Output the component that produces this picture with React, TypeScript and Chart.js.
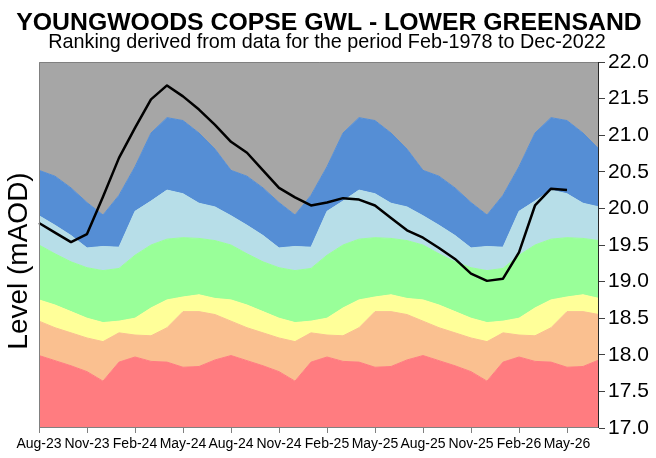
import React, { useEffect, useRef } from "react";
import { Chart, registerables } from "chart.js";

Chart.register(...registerables);

const TITLE = "YOUNGWOODS COPSE GWL - LOWER GREENSAND";
const SUBTITLE = "Ranking derived from data for the period Feb-1978 to Dec-2022";
const Y_TITLE = "Level (mAOD)";

const months = [
  "Aug-23", "Sep-23", "Oct-23", "Nov-23", "Dec-23", "Jan-24", "Feb-24", "Mar-24", "Apr-24", "May-24", "Jun-24", "Jul-24",
  "Aug-24", "Sep-24", "Oct-24", "Nov-24", "Dec-24", "Jan-25", "Feb-25", "Mar-25", "Apr-25", "May-25", "Jun-25", "Jul-25",
  "Aug-25", "Sep-25", "Oct-25", "Nov-25", "Dec-25", "Jan-26", "Feb-26", "Mar-26", "Apr-26", "May-26", "Jun-26", "Jul-26",
];

const shownLabels = ["Aug-23", "Nov-23", "Feb-24", "May-24", "Aug-24", "Nov-24", "Feb-25", "May-25", "Aug-25", "Nov-25", "Feb-26", "May-26"];

const yTicks = [17.0, 17.5, 18.0, 18.5, 19.0, 19.5, 20.0, 20.5, 21.0, 21.5, 22.0];

// band upper boundaries (mAOD)
const redTop = [
  17.99, 17.92, 17.85, 17.77, 17.64, 17.90, 17.97, 17.91, 17.90, 17.83, 17.84, 17.93,
  17.99, 17.92, 17.85, 17.77, 17.64, 17.90, 17.97, 17.91, 17.90, 17.83, 17.84, 17.93,
  17.99, 17.92, 17.85, 17.77, 17.64, 17.90, 17.97, 17.91, 17.90, 17.83, 17.84, 17.93,
];
const orangeTop = [
  18.46, 18.37, 18.30, 18.23, 18.18, 18.30, 18.27, 18.26, 18.37, 18.59, 18.59, 18.55,
  18.46, 18.37, 18.30, 18.23, 18.18, 18.30, 18.27, 18.26, 18.37, 18.59, 18.59, 18.55,
  18.46, 18.37, 18.30, 18.23, 18.18, 18.30, 18.27, 18.26, 18.37, 18.59, 18.59, 18.55,
];
const yellowTop = [
  18.75, 18.68, 18.59, 18.50, 18.44, 18.46, 18.50, 18.64, 18.75, 18.79, 18.82, 18.77,
  18.75, 18.68, 18.59, 18.50, 18.44, 18.46, 18.50, 18.64, 18.75, 18.79, 18.82, 18.77,
  18.75, 18.68, 18.59, 18.50, 18.44, 18.46, 18.50, 18.64, 18.75, 18.79, 18.82, 18.77,
];
const greenTop = [
  19.50, 19.38, 19.27, 19.19, 19.15, 19.18, 19.36, 19.50, 19.58, 19.60, 19.59, 19.56,
  19.50, 19.38, 19.27, 19.19, 19.15, 19.18, 19.36, 19.50, 19.58, 19.60, 19.59, 19.56,
  19.50, 19.38, 19.27, 19.19, 19.15, 19.18, 19.36, 19.50, 19.58, 19.60, 19.59, 19.56,
];
const lightBlueTop = [
  19.90, 19.77, 19.63, 19.46, 19.48, 19.47, 19.96, 20.10, 20.25, 20.20, 20.07, 20.02,
  19.90, 19.77, 19.63, 19.46, 19.48, 19.47, 19.96, 20.10, 20.25, 20.20, 20.07, 20.02,
  19.90, 19.77, 19.63, 19.46, 19.48, 19.47, 19.96, 20.10, 20.25, 20.20, 20.07, 20.02,
];
const blueTop = [
  20.52, 20.44, 20.28, 20.08, 19.91, 20.18, 20.57, 21.03, 21.24, 21.20, 21.03, 20.81,
  20.52, 20.44, 20.28, 20.08, 19.91, 20.18, 20.57, 21.03, 21.24, 21.20, 21.03, 20.81,
  20.52, 20.44, 20.28, 20.08, 19.91, 20.18, 20.57, 21.03, 21.24, 21.20, 21.03, 20.81,
];

// observed groundwater level (mAOD)
const level = [
  19.80, 19.67, 19.54, 19.65, 20.16, 20.69, 21.10, 21.49, 21.68, 21.53, 21.35, 21.14,
  20.91, 20.76, 20.52, 20.28, 20.15, 20.04, 20.08, 20.14, 20.12, 20.04, 19.87, 19.70,
  19.60, 19.46, 19.31, 19.11, 19.01, 19.04, 19.40, 20.04, 20.27, 20.25, null, null,
];

const FONT = "'Liberation Sans', Arial, Helvetica, sans-serif";

const COLORS = {
  gray: "#A6A6A6",
  blue: "#558ED5",
  lightBlue: "#B7DEE8",
  green: "#99FF99",
  yellow: "#FFFF99",
  orange: "#FAC090",
  red: "#FF7C80",
};

const decorPlugin = {
  id: "decor",
  afterDatasetsDraw(chart: any) {
    const { ctx, chartArea } = chart;
    const { left, right, top, bottom } = chartArea;
    ctx.save();
    ctx.lineWidth = 1;
    ctx.strokeStyle = "#808080";
    ctx.beginPath();
    ctx.moveTo(left + 0.5, bottom);
    ctx.lineTo(left + 0.5, top + 0.5);
    ctx.lineTo(right, top + 0.5);
    ctx.moveTo(left, bottom - 0.5);
    ctx.lineTo(right, bottom - 0.5);
    ctx.stroke();
    ctx.strokeStyle = "#262626";
    ctx.beginPath();
    ctx.moveTo(right - 0.5, top);
    ctx.lineTo(right - 0.5, bottom);
    ctx.stroke();
    ctx.restore();
  },
  afterDraw(chart: any) {
    const { ctx } = chart;
    ctx.save();
    ctx.fillStyle = "#000";
    ctx.textAlign = "center";
    ctx.textBaseline = "alphabetic";
    ctx.font = `bold 24.8px ${FONT}`;
    ctx.fillText(TITLE, 329, 30);
    ctx.font = `19.8px ${FONT}`;
    ctx.fillText(SUBTITLE, 327, 48);
    ctx.translate(27, 261);
    ctx.rotate(-Math.PI / 2);
    ctx.font = `28px ${FONT}`;
    ctx.fillText(Y_TITLE, 0, 0);
    ctx.restore();
  },
};

function band(label: string, data: number[], color: string, fill: any) {
  return {
    label,
    data,
    backgroundColor: color,
    borderColor: color,
    borderWidth: 1,
    pointRadius: 0,
    fill,
    tension: 0,
    order: 1,
  };
}

export default function App() {
  const ref = useRef<HTMLCanvasElement | null>(null);

  useEffect(() => {
    document.body.style.margin = "0";
    const canvas = ref.current;
    if (!canvas) return;
    const chart = new Chart(canvas, {
      type: "line",
      data: {
        labels: months,
        datasets: [
          band("Red", redTop, COLORS.red, "start"),
          band("Orange", orangeTop, COLORS.orange, "-1"),
          band("Yellow", yellowTop, COLORS.yellow, "-1"),
          band("Green", greenTop, COLORS.green, "-1"),
          band("Light blue", lightBlueTop, COLORS.lightBlue, "-1"),
          band("Blue", blueTop, COLORS.blue, "-1"),
          { ...band("Gray", blueTop, COLORS.gray, "end"), borderWidth: 0 },
          {
            label: "Level",
            data: level,
            borderColor: "#000000",
            borderWidth: 2.5,
            pointRadius: 0,
            fill: false,
            tension: 0,
            spanGaps: false,
            order: 0,
          } as any,
        ],
      },
      options: {
        responsive: false,
        animation: false,
        devicePixelRatio: 1,
        layout: { padding: { left: 39, right: 0, top: 62, bottom: 0 } },
        plugins: {
          legend: { display: false },
          tooltip: { enabled: false },
          title: { display: false },
        },
        elements: { line: { borderJoinStyle: "round" } },
        scales: {
          x: {
            type: "category",
            offset: false,
            afterFit(scale: any) {
              scale.height = 30;
            },
            grid: {
              display: true,
              drawOnChartArea: false,
              drawTicks: true,
              tickLength: 5,
              color: (ctx: any) => (ctx.index % 3 === 0 ? "#808080" : "rgba(0,0,0,0)"),
            },
            border: { display: false },
            ticks: {
              autoSkip: false,
              maxRotation: 0,
              minRotation: 0,
              padding: 3,
              color: "#000",
              font: { family: FONT, size: 14 },
              callback: (_v: any, i: number) => (shownLabels.includes(months[i]) ? months[i] : ""),
            },
          },
          y: {
            position: "right",
            min: yTicks[0],
            max: yTicks[yTicks.length - 1],
            afterFit(scale: any) {
              scale.width = 57;
            },
            afterBuildTicks(scale: any) {
              scale.ticks = yTicks.map((v) => ({ value: v }));
            },
            grid: {
              display: true,
              drawOnChartArea: false,
              drawTicks: true,
              tickLength: 6,
              color: "#404040",
            },
            border: { display: false },
            ticks: {
              padding: 3,
              color: "#000",
              font: { family: FONT, size: 21 },
              callback: (v: any) => Number(v).toFixed(1),
            },
          },
        },
      },
      plugins: [decorPlugin],
    });
    return () => chart.destroy();
  }, []);

  return (
    <div style={{ width: 656, height: 458, background: "#fff" }}>
      <canvas ref={ref} width={656} height={458} style={{ display: "block" }} />
    </div>
  );
}
